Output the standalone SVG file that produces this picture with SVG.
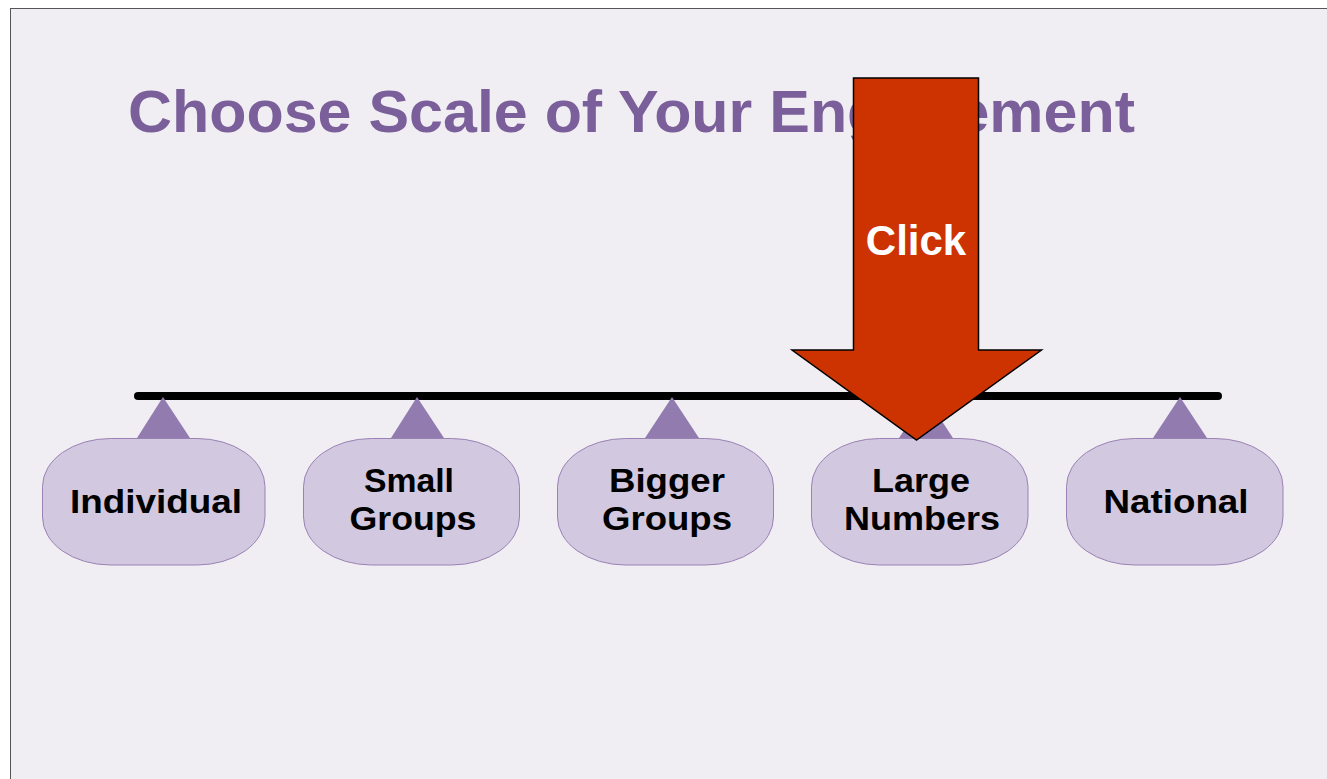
<svg xmlns="http://www.w3.org/2000/svg" width="1327" height="779" viewBox="0 0 1327 779">
  <defs>
    <style>
      .title { font-family: "Liberation Sans", Arial, sans-serif; font-weight: bold; font-size: 60px; fill: #7A5F9A; }
      .label { font-family: "Liberation Sans", Arial, sans-serif; font-weight: bold; font-size: 34px; fill: #000000; text-anchor: middle; }
      .click { font-family: "Liberation Sans", Arial, sans-serif; font-weight: bold; font-size: 42px; fill: #FFFFFF; text-anchor: middle; }
      .tab { fill: #927BAF; }
      .bubble { fill: #D2C8DF; stroke: #9A82B5; stroke-width: 1; }
    </style>
  </defs>

  <!-- page and slide frame -->
  <rect x="0" y="0" width="1327" height="779" fill="#FFFFFF"/>
  <rect x="10.5" y="8.5" width="1330" height="780" fill="#F0EEF3" stroke="#555555" stroke-width="1"/>

  <!-- heading -->
  <text class="title" x="128" y="132" textLength="1007" lengthAdjust="spacingAndGlyphs">Choose Scale of Your Engagement</text>

  <!-- timeline bar -->
  <g id="connectors">
    <line x1="138" y1="396" x2="1218" y2="396" stroke="#000000" stroke-width="8" stroke-linecap="round"/>
    <polygon class="tab" points="163,397 137,438 190,438"/>
    <polygon class="tab" points="417,397 391,438 444,438"/>
    <polygon class="tab" points="672,397 645,438 699,438"/>
    <polygon class="tab" points="926,397 899,438 953,438"/>
    <polygon class="tab" points="1180,397 1153,438 1207,438"/>
  </g>

  <!-- scale options -->
  <g id="node-individual">
    <rect class="bubble" x="42.5" y="438.5" width="222.5" height="126.5" rx="68" ry="48"/>
    <text class="label" x="156" y="513" textLength="172" lengthAdjust="spacingAndGlyphs">Individual</text>
  </g>
  <g id="node-small-groups">
    <rect class="bubble" x="303.5" y="438.5" width="216" height="126.5" rx="68" ry="48"/>
    <text class="label" x="409" y="492" textLength="90" lengthAdjust="spacingAndGlyphs">Small</text>
    <text class="label" x="413" y="530" textLength="127" lengthAdjust="spacingAndGlyphs">Groups</text>
  </g>
  <g id="node-bigger-groups">
    <rect class="bubble" x="557.5" y="438.5" width="216" height="126.5" rx="68" ry="48"/>
    <text class="label" x="667" y="492" textLength="116" lengthAdjust="spacingAndGlyphs">Bigger</text>
    <text class="label" x="667" y="530" textLength="130" lengthAdjust="spacingAndGlyphs">Groups</text>
  </g>
  <g id="node-large-numbers">
    <rect class="bubble" x="811.5" y="438.5" width="216.5" height="126.5" rx="68" ry="48"/>
    <text class="label" x="921" y="492" textLength="98" lengthAdjust="spacingAndGlyphs">Large</text>
    <text class="label" x="922" y="530" textLength="156" lengthAdjust="spacingAndGlyphs">Numbers</text>
  </g>
  <g id="node-national">
    <rect class="bubble" x="1066.5" y="438.5" width="216.5" height="126.5" rx="68" ry="48"/>
    <text class="label" x="1176" y="513" textLength="145" lengthAdjust="spacingAndGlyphs">National</text>
  </g>

  <!-- pointer arrow -->
  <g id="node-click-arrow">
    <polygon points="853.5,78 978.5,78 978.5,350 1041.5,350 916.5,440 792,350 853.5,350" fill="#CC3300" stroke="#000000" stroke-width="1.5" stroke-linejoin="miter"/>
    <text class="click" x="916" y="255">Click</text>
  </g>
</svg>
